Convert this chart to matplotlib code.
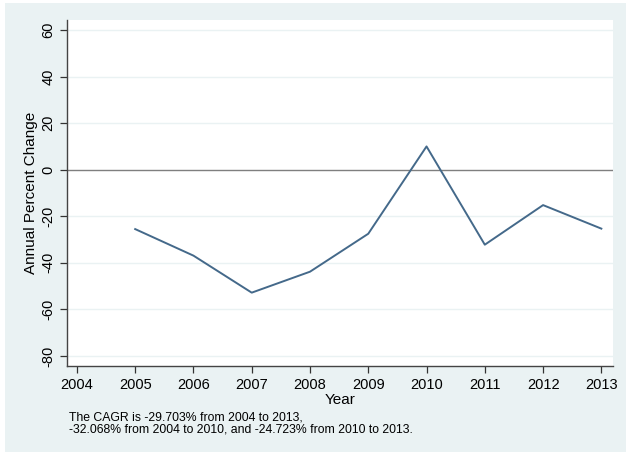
import matplotlib
matplotlib.use("Agg")
import matplotlib.pyplot as plt
from matplotlib.patches import Rectangle

years = [2005, 2006, 2007, 2008, 2009, 2010, 2011, 2012, 2013]
pct_change = [-25.5, -36.9, -52.8, -43.8, -27.5, 10.0, -32.2, -15.2, -25.3]
x_ticks = list(range(2004, 2014))
y_ticks = [-80, -60, -40, -20, 0, 20, 40, 60]
note = ("The CAGR is -29.703% from 2004 to 2013,\n"
        "-32.068% from 2004 to 2010, and -24.723% from 2010 to 2013.")

plt.rcParams['font.family'] = ['Liberation Sans', 'DejaVu Sans']
bg = '#EAF2F3'
W, H = 626, 457
fig = plt.figure(figsize=(W/100, H/100), dpi=100)
fig.patch.set_facecolor('white')
fig.add_artist(Rectangle((5/W, 5/H), 1 - 5/W, (453-4)/H, transform=fig.transFigure,
                         facecolor=bg, edgecolor='none', zorder=-10))

ax = fig.add_axes([67/W, 1-366/H, (613-67)/W, (366-20)/H])
ax.set_facecolor('white')
ax.plot(years, pct_change, color='#44698A', lw=1.4, zorder=3)
ax.axhline(0, color='#7F7F7F', lw=1.0, zorder=2)
for y in y_ticks:
    if y != 0:
        ax.axhline(y, color=bg, lw=1.0, zorder=1)

ax.set_xlim(2003.83, 2013.2)
ax.set_ylim(-84.3, 64.3)
ax.set_xticks(x_ticks)
ax.set_yticks(y_ticks)
ax.set_yticklabels([str(v) for v in y_ticks], rotation=90, va='center')
ax.tick_params(axis='both', labelsize=10.5, length=5, width=0.9, color='#333333', direction='out')
for s in ['top', 'right']:
    ax.spines[s].set_visible(False)
for s in ['left', 'bottom']:
    ax.spines[s].set_color('#444444')
    ax.spines[s].set_linewidth(1.0)
ax.set_xlabel('Year', fontsize=11, labelpad=1)
ax.set_ylabel('Annual Percent Change', fontsize=11, labelpad=2)

fig.text(69/W, 1-411/H, note, fontsize=8.8, va='top', ha='left', linespacing=1.0)

fig.savefig('out.png', dpi=100, facecolor=fig.get_facecolor())
